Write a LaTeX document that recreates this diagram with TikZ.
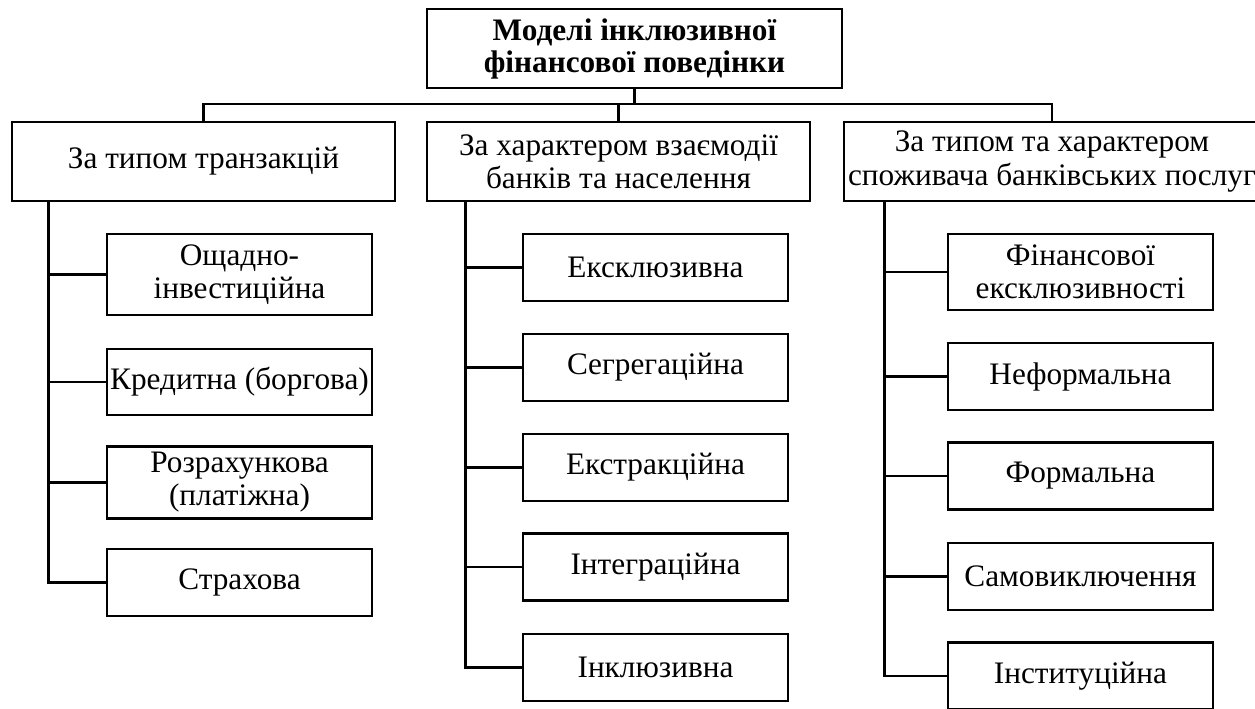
\documentclass[tikz,border=0pt]{standalone}
\usepackage{fontspec}
\setmainfont{Liberation Serif}

\begin{document}
\begin{tikzpicture}[
    box/.style={draw, line width=1.6pt, inner xsep=0pt, align=center, font=\fontsize{17.8}{18.8}\selectfont},
    catbox/.style={box, minimum width=7.66cm, minimum height=1.58cm},
    leafbox/.style={box, minimum width=5.3cm, minimum height=1.34cm},
    link/.style={line width=1.3pt}
]
    \clip (0,0) rectangle (25.1,14.16);

    \node[box, font=\fontsize{17.8}{18.2}\selectfont\bfseries, minimum width=8.3cm, minimum height=1.58cm] (root) at (12.69,13.19) {Моделі інклюзивної\\фінансової поведінки};

    \node[catbox] (cat1) at (4.07,10.93) {За типом транзакцій};
    \node[catbox] (cat2) at (12.37,10.93) {За характером взаємодії\\банків та населення};
    \node[catbox, minimum width=8.32cm] (cat3) at (21.04,10.93) {За типом та характером\\споживача банківських послуг};

    \coordinate (bus) at (0,12.08);
    \draw[link] (root.south) -- (root.south |- bus);
    \draw[link] (cat1.north) -- (cat1.north |- bus) -| (cat3.north);
    \draw[link] (cat2.north) -- (cat2.north |- bus);

    % za typom tranzakcij
    \node[leafbox, minimum height=1.62cm] (a1) at (4.79,8.67) {Ощадно-\\інвестиційна};
    \node[leafbox, minimum height=1.32cm] (a2) at (4.79,6.52) {Кредитна (боргова)};
    \node[leafbox] (a3) at (4.79,4.51) {Розрахункова\\(платіжна)};
    \node[leafbox] (a4) at (4.79,2.51) {Страхова};

    \coordinate (t1) at ([xshift=0.76cm]cat1.south west);
    \draw[link] (t1) |- (a4.west);
    \draw[link] (t1 |- a1.west) -- (a1.west);
    \draw[link] (t1 |- a2.west) -- (a2.west);
    \draw[link] (t1 |- a3.west) -- (a3.west);

    % za harakterom vzajemodii
    \node[leafbox] (b1) at (13.11,8.81) {Ексклюзивна};
    \node[leafbox] (b2) at (13.11,6.81) {Сегрегаційна};
    \node[leafbox] (b3) at (13.11,4.81) {Екстракційна};
    \node[leafbox] (b4) at (13.11,2.82) {Інтеграційна};
    \node[leafbox] (b5) at (13.11,0.81) {Інклюзивна};

    \coordinate (t2) at ([xshift=0.80cm]cat2.south west);
    \draw[link] (t2) |- (b5.west);
    \draw[link] (t2 |- b1.west) -- (b1.west);
    \draw[link] (t2 |- b2.west) -- (b2.west);
    \draw[link] (t2 |- b3.west) -- (b3.west);
    \draw[link] (t2 |- b4.west) -- (b4.west);

    % za typom spozhyvacha
    \node[leafbox, minimum height=1.52cm] (c1) at (21.61,8.72) {Фінансової\\ексклюзивності};
    \node[leafbox] (c2) at (21.61,6.63) {Неформальна};
    \node[leafbox] (c3) at (21.61,4.64) {Формальна};
    \node[leafbox] (c4) at (21.61,2.63) {Самовиключення};
    \node[leafbox] (c5) at (21.61,0.64) {Інституційна};

    \coordinate (t3) at ([xshift=0.84cm]cat3.south west);
    \draw[link] (t3) |- (c5.west);
    \draw[link] (t3 |- c1.west) -- (c1.west);
    \draw[link] (t3 |- c2.west) -- (c2.west);
    \draw[link] (t3 |- c3.west) -- (c3.west);
    \draw[link] (t3 |- c4.west) -- (c4.west);

\end{tikzpicture}
\end{document}
